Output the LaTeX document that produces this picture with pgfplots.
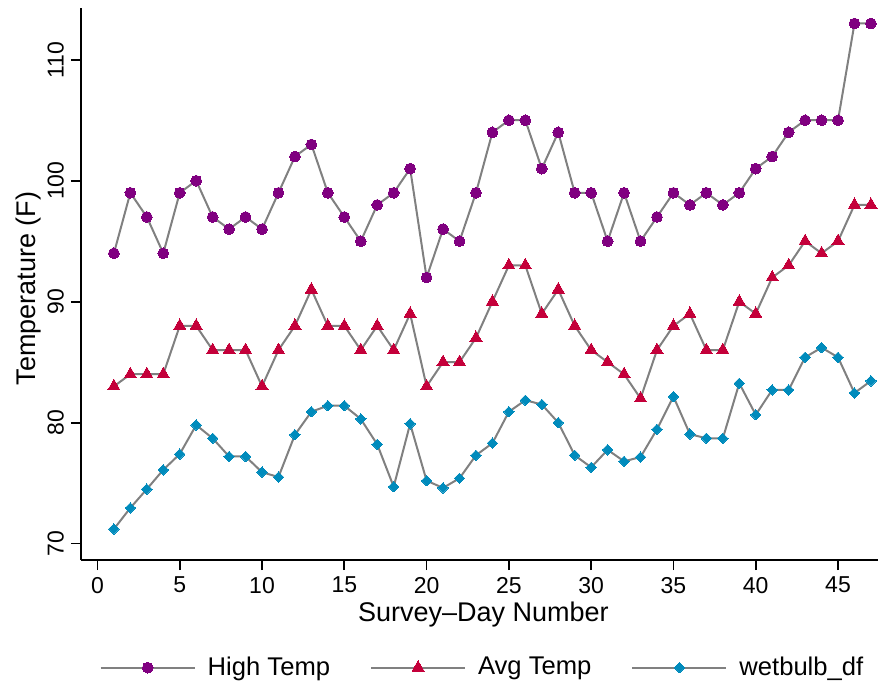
\documentclass[border=0pt]{standalone}
\usepackage{pgfplots}
\pgfplotsset{compat=1.18}
\usepackage{fontspec}
\setmainfont{Liberation Sans}
\definecolor{hicol}{RGB}{128,0,128}
\definecolor{avgcol}{RGB}{196,0,58}
\definecolor{wbcol}{RGB}{0,139,188}
\definecolor{lncol}{RGB}{128,128,128}
\begin{document}
\begin{tikzpicture}
\begin{axis}[
 scale only axis, width=398.5pt, height=276pt,
 xmin=-1, xmax=47.43, ymin=68.64, ymax=114.28,
 axis x line=bottom, axis y line=left,
 axis line style={-, line width=1pt, black},
 xtick={0,5,...,45}, ytick={70,80,90,100,110},
 tick align=outside, major tick length=5pt,
 tick style={black, line width=0.9pt},
 minor tick num=0,
 clip=false,
 /pgf/number format/assume math mode=true,
 ticklabel style={font=\fontsize{11.5}{13}\selectfont},
 yticklabel style={rotate=90, anchor=south},
 xlabel={Survey--Day Number},
 ylabel={Temperature (F)},
 xlabel style={at={([yshift=-30.85pt]axis description cs:0.505,0)}, anchor=base, inner sep=0pt, font=\fontsize{13.5}{15}\selectfont},
 ylabel style={at={([xshift=-22.5pt]axis description cs:0,0.492)}, anchor=base, inner sep=0pt, font=\fontsize{13.5}{15}\selectfont},
 legend style={draw=none, fill=none, at={(0.505,-0.195)}, anchor=center, legend columns=3,
   font=\fontsize{12.8}{14}\selectfont,
   /tikz/every even column/.append style={column sep=18pt},
   /tikz/every odd column/.append style={column sep=4pt}},
 legend image code/.code={\draw[mark repeat=2, mark phase=2] plot coordinates {(0pt,0pt) (23.5pt,0pt) (47pt,0pt)};},
 every axis plot/.append style={line width=1pt, lncol},
]
\addplot[lncol, mark=*, mark size=2.7pt, mark options={draw=hicol, fill=hicol, line width=0pt}] coordinates {
(1,94) (2,99) (3,97) (4,94) (5,99) (6,100) (7,97) (8,96) (9,97) (10,96)
(11,99) (12,102) (13,103) (14,99) (15,97) (16,95) (17,98) (18,99) (19,101) (20,92)
(21,96) (22,95) (23,99) (24,104) (25,105) (26,105) (27,101) (28,104) (29,99) (30,99)
(31,95) (32,99) (33,95) (34,97) (35,99) (36,98) (37,99) (38,98) (39,99) (40,101)
(41,102) (42,104) (43,105) (44,105) (45,105) (46,113) (47,113)};
\addlegendentry{High Temp}
\addplot[lncol, mark=triangle*, mark size=3.5pt, mark options={draw=avgcol, fill=avgcol, line width=0pt}] coordinates {
(1,83) (2,84) (3,84) (4,84) (5,88) (6,88) (7,86) (8,86) (9,86) (10,83)
(11,86) (12,88) (13,91) (14,88) (15,88) (16,86) (17,88) (18,86) (19,89) (20,83)
(21,85) (22,85) (23,87) (24,90) (25,93) (26,93) (27,89) (28,91) (29,88) (30,86)
(31,85) (32,84) (33,82) (34,86) (35,88) (36,89) (37,86) (38,86) (39,90) (40,89)
(41,92) (42,93) (43,95) (44,94) (45,95) (46,98) (47,98)};
\addlegendentry{Avg Temp}
\addplot[lncol, mark=square*, mark size=1.85pt, mark options={rotate=45, draw=wbcol, fill=wbcol, line width=0pt}] coordinates {
(1,71.2) (2,72.95) (3,74.5) (4,76.1) (5,77.4) (6,79.8) (7,78.7) (8,77.2) (9,77.2) (10,75.9)
(11,75.5) (12,79.0) (13,80.9) (14,81.4) (15,81.4) (16,80.3) (17,78.2) (18,74.7) (19,79.9) (20,75.2)
(21,74.6) (22,75.4) (23,77.3) (24,78.3) (25,80.9) (26,81.85) (27,81.5) (28,80.0) (29,77.3) (30,76.3)
(31,77.75) (32,76.8) (33,77.15) (34,79.45) (35,82.15) (36,79.05) (37,78.7) (38,78.7) (39,83.25) (40,80.65)
(41,82.7) (42,82.7) (43,85.4) (44,86.2) (45,85.4) (46,82.45) (47,83.45)};
\addlegendentry{wetbulb\_df}
\end{axis}
\pgfresetboundingbox
\path (current axis.south west) ++(-40.5pt,-64pt) rectangle ([shift={(0pt,4pt)}]current axis.north east);
\end{tikzpicture}
\end{document}
